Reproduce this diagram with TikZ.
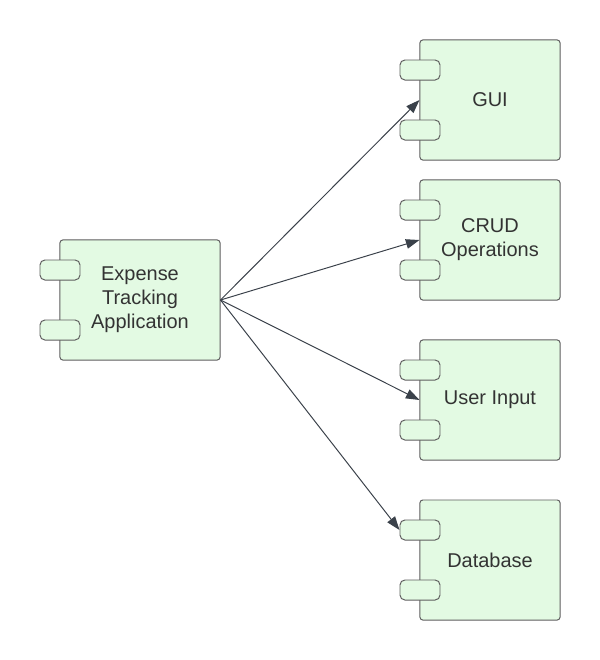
\documentclass[tikz,border=0pt]{standalone}
\usepackage{fontspec}
\setmainfont{Liberation Sans}
\usetikzlibrary{arrows.meta}
\definecolor{boxfill}{HTML}{E3FAE3}
\definecolor{boxline}{HTML}{5E5E5E}
\definecolor{textcol}{HTML}{333333}
\definecolor{arrowcol}{HTML}{3A414A}
\tikzset{
	compbox/.style={draw=boxline,fill=boxfill,line width=0.7pt,rounded corners=2pt,
		minimum width=3.5cm,minimum height=3cm,align=center,text=textcol,
		font=\fontsize{14.2}{17.1}\selectfont},
	portbox/.style={draw=boxline,fill=boxfill,line width=0.7pt,rounded corners=3.5pt,
		minimum width=1cm,minimum height=0.5cm},
	link/.style={draw=arrowcol,line width=0.7pt,-{Triangle[length=3.4mm,width=2.4mm]}}
}
\begin{document}
\begin{tikzpicture}[x=0.025cm,y=-0.025cm]
	\useasboundingbox (0,0) rectangle (600,660);
	% main component
	\node[compbox,minimum width=4cm] (app) at (140,300) {Expense\\Tracking\\Application};
	\node[portbox] (app-p1) at (60,270) {};
	\node[portbox] (app-p2) at (60,330) {};
	% parts
	\foreach \name/\y/\txt in {gui/100/GUI,crud/240/{CRUD\\Operations},input/400/User Input,db/560/Database}
	{
		\node[compbox] (\name) at (490,\y) {\txt};
		\node[portbox] (\name-p1) at (420,\y-30) {};
		\node[portbox] (\name-p2) at (420,\y+30) {};
	}
	% connectors
	\draw[link] (app.east) -- (gui.west);
	\draw[link] (app.east) -- (crud.west);
	\draw[link] (app.east) -- (input.west);
	\draw[link] (app.east) -- (db-p1.west);
\end{tikzpicture}
\end{document}
